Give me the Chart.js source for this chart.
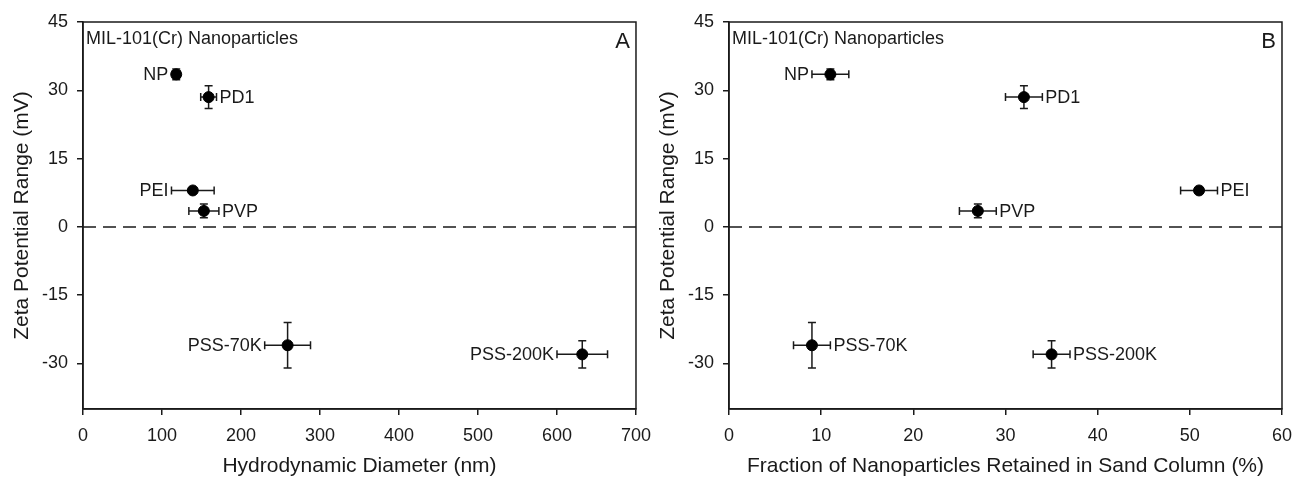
<!DOCTYPE html>
<html>
<head>
<meta charset="utf-8">
<script src="https://cdn.jsdelivr.net/npm/chart.js@4/dist/chart.umd.min.js"></script>
<style>
  body{margin:0;background:#fff;overflow:hidden;}
  #wrap{position:relative;width:1292px;height:477px;overflow:hidden;}
  canvas{display:block;position:absolute;top:0;}
  #diamChart{left:0;}
  #retChart{left:646px;}
</style>
</head>
<body>
<div id="wrap">
  <canvas id="diamChart" width="661" height="477"></canvas>
  <canvas id="retChart" width="656" height="477"></canvas>
</div>
<script>
var diamCanv = document.getElementById("diamChart");
var retCanv = document.getElementById("retChart");

// nanoparticle coatings
var names = ['NP', 'PD1', 'PEI', 'PVP', 'PSS-70K', 'PSS-200K'];
// zeta potential (mV) and its error
var zeta = [33.5, 28.5, 8, 3.5, -26, -28];
var zetaErr = [1.2, 2.5, 0.5, 1.5, 5, 3];
// hydrodynamic diameter (nm) and its error
var diameter = [118, 159, 139, 153, 259, 632];
var diameterErr = [5, 10, 27, 19, 29, 32];
// fraction retained in sand column (%) and its error
var retained = [11, 32, 51, 27, 9, 35];
var retainedErr = [2, 2, 2, 2, 2, 2];

// which side each label goes on
var sideA = ['left', 'right', 'left', 'right', 'left', 'left'];
var sideB = ['left', 'right', 'right', 'right', 'right', 'right'];

var yTicks = [-30, -15, 0, 15, 30, 45];
var xTicksA = [0, 100, 200, 300, 400, 500, 600, 700];
var xTicksB = [0, 10, 20, 30, 40, 50, 60];

var FONT = "'Liberation Sans', Arial, sans-serif";
var INK = '#1a1a1a';

function points(xs, ys) {
  var out = [];
  for (var i = 0; i < xs.length; i++) {
    out.push({x: xs[i], y: ys[i]});
  }
  return out;
}

//errorbars, labels, zero line and frame
var extras = {
  id: 'extras',
  beforeDatasetsDraw: function(chart, args, opts) {
    var ctx = chart.ctx;
    var area = chart.chartArea;
    var xs = chart.scales.x, ys = chart.scales.y;
    ctx.save();
    // dashed zero line
    var y0 = ys.getPixelForValue(0);
    ctx.strokeStyle = INK;
    ctx.lineWidth = 1.5;
    ctx.setLineDash([13, 7]);
    ctx.beginPath();
    ctx.moveTo(area.left, y0);
    ctx.lineTo(area.right, y0);
    ctx.stroke();
    ctx.setLineDash([]);

    // error bars
    ctx.lineWidth = 1.5;
    var cap = 4;
    for (var i = 0; i < opts.xv.length; i++) {
      var px = xs.getPixelForValue(opts.xv[i]);
      var py = ys.getPixelForValue(opts.yv[i]);
      var xl = xs.getPixelForValue(opts.xv[i] - opts.xe[i]);
      var xr = xs.getPixelForValue(opts.xv[i] + opts.xe[i]);
      var yt = ys.getPixelForValue(opts.yv[i] + opts.ye[i]);
      var yb = ys.getPixelForValue(opts.yv[i] - opts.ye[i]);
      ctx.beginPath();
      ctx.moveTo(xl, py); ctx.lineTo(xr, py);
      ctx.moveTo(xl, py - cap); ctx.lineTo(xl, py + cap);
      ctx.moveTo(xr, py - cap); ctx.lineTo(xr, py + cap);
      ctx.moveTo(px, yt); ctx.lineTo(px, yb);
      ctx.moveTo(px - cap, yt); ctx.lineTo(px + cap, yt);
      ctx.moveTo(px - cap, yb); ctx.lineTo(px + cap, yb);
      ctx.stroke();

      // point label
      ctx.fillStyle = INK;
      ctx.font = '18px ' + FONT;
      ctx.textBaseline = 'middle';
      if (opts.side[i] === 'left') {
        ctx.textAlign = 'right';
        ctx.fillText(names[i], Math.min(xl, px - 5) - 3, py + 1);
      } else {
        ctx.textAlign = 'left';
        ctx.fillText(names[i], Math.max(xr, px + 5) + 3, py + 1);
      }
    }

    // frame
    ctx.lineWidth = 1.5;
    ctx.strokeRect(area.left, area.top, area.right - area.left, area.bottom - area.top);

    // inner titles
    ctx.font = '18px ' + FONT;
    ctx.textAlign = 'left';
    ctx.textBaseline = 'top';
    ctx.fillText('MIL-101(Cr) Nanoparticles', area.left + 3, area.top + 8);
    ctx.font = '22px ' + FONT;
    ctx.textAlign = 'right';
    ctx.fillText(opts.letter, area.right - 6, area.top + 9);
    ctx.restore();
  }
};

function makeChart(canv, xv, xe, side, letter, xTitle, xMax, xTickList) {
  return new Chart(canv, {
    type: 'scatter',
    data: {
      datasets: [{
        data: points(xv, zeta),
        backgroundColor: '#000',
        borderColor: '#000',
        pointRadius: 5.5,
        pointHoverRadius: 5.5,
        showLine: false
      }]
    },
    options: {
      responsive: false,
      animation: false,
      events: [],
      layout: {padding: {left: 0, right: 0, top: 22, bottom: 0}},
      plugins: {
        legend: {display: false},
        tooltip: {enabled: false},
        extras: {xv: xv, yv: zeta, xe: xe, ye: zetaErr, side: side, letter: letter}
      },
      scales: {
        x: {
          type: 'linear',
          min: 0,
          max: xMax,
          afterBuildTicks: function(scale) {
            scale.ticks = xTickList.map(function(v) { return {value: v}; });
          },
          afterFit: function(scale) { scale.height = 68; },
          grid: {drawOnChartArea: false, drawTicks: true, tickLength: 6, color: INK, lineWidth: 1.5},
          border: {display: true, color: INK, width: 1.5},
          ticks: {color: INK, font: {family: FONT, size: 18}, padding: 10, maxRotation: 0},
          title: {display: true, text: xTitle, color: INK, font: {family: FONT, size: 21, lineHeight: 1.0}, padding: {top: 4, bottom: 0}}
        },
        y: {
          type: 'linear',
          min: -40,
          max: 45,
          afterBuildTicks: function(scale) {
            scale.ticks = yTicks.map(function(v) { return {value: v}; });
          },
          afterFit: function(scale) { scale.width = 83; },
          grid: {drawOnChartArea: false, drawTicks: true, tickLength: 6, color: INK, lineWidth: 1.5},
          border: {display: true, color: INK, width: 1.5},
          ticks: {color: INK, font: {family: FONT, size: 18}, padding: 9},
          title: {display: true, text: 'Zeta Potential Range (mV)', color: INK, font: {family: FONT, size: 21}, padding: {top: 10, bottom: 0}}
        }
      }
    },
    plugins: [extras]
  });
}

var diamPlot = makeChart(diamCanv, diameter, diameterErr, sideA, 'A', 'Hydrodynamic Diameter (nm)', 700, xTicksA);
var retPlot = makeChart(retCanv, retained, retainedErr, sideB, 'B', 'Fraction of Nanoparticles Retained in Sand Column (%)', 60, xTicksB);
</script>
</body>
</html>
